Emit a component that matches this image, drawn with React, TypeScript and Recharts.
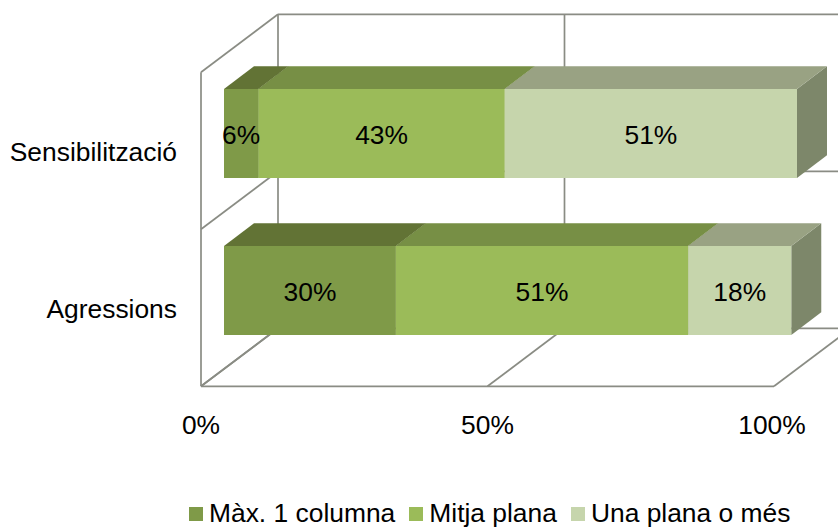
import React from "react";
import { BarChart, Bar, XAxis, YAxis, Legend, LabelList, CartesianGrid } from "recharts";

const categories = ["Sensibilització", "Agressions"];
const maxUnaColumna = [6, 30];
const mitjaPlana = [43, 51];
const unaPlanaOMes = [51, 18];
const xTicks = [0, 50, 100];
const seriesNames = ["Màx. 1 columna", "Mitja plana", "Una plana o més"];

const frontColors = ["#7F9A48", "#9BBB59", "#C6D5AC"];
const topColors = ["#627335", "#778F45", "#99A283"];
const sideColors = ["#627335", "#778F45", "#7D876A"];

const rows = categories.map((name, i) => ({
  name,
  a: maxUnaColumna[i],
  b: mitjaPlana[i],
  c: unaPlanaOMes[i],
}));

const FONT = "'Liberation Sans', Arial, sans-serif";
const FONT_SIZE = 26.4;
const GRID = "#8A8C84";
const LINE_W = 1.7;

const W = 838;
const H = 527;
const LEGEND_H = 27;
const AXIS_SIZE = 1;
const PLOT = { left: 224, right: 797, top: 55, bottom: 369 };
// projection of the chart box: bar plane -> front plane -> back wall
const FRONT = { dx: -23, dy: 17.3 };
const BACK = { dx: 54, dy: -40.7 };
// depth of a bar
const BAR_DEPTH = { dx: 30, dy: -22.7 };

const gridLine = (x1: number, y1: number, x2: number, y2: number) => (
  <line x1={x1} y1={y1} x2={x2} y2={y2} stroke={GRID} strokeWidth={LINE_W} />
);

// value gridlines: floor diagonal and back-wall vertical
const verticalGrid = (props: any) => {
  const { x1: x, y1: top, y2: bottom, index } = props;
  return (
    <g key={`v-${index}`}>
      {gridLine(x + FRONT.dx, bottom + FRONT.dy, x + BACK.dx, bottom + BACK.dy)}
      {gridLine(x + BACK.dx, bottom + BACK.dy, x + BACK.dx, top + BACK.dy)}
      {index === 0 && gridLine(x + FRONT.dx, top + FRONT.dy, x + FRONT.dx, bottom + FRONT.dy)}
    </g>
  );
};

// category separators: side-wall diagonal and back-wall horizontal
const horizontalGrid = (props: any) => {
  const { x1: left, x2: right, y1: y, index } = props;
  return (
    <g key={`h-${index}`}>
      {gridLine(left + FRONT.dx, y + FRONT.dy, left + BACK.dx, y + BACK.dy)}
      {gridLine(left + BACK.dx, y + BACK.dy, right + BACK.dx, y + BACK.dy)}
      {index === categories.length && gridLine(left + FRONT.dx, y + FRONT.dy, right + FRONT.dx, y + FRONT.dy)}
    </g>
  );
};

const bandEdges = ({ offset }: any) =>
  categories.map((_, i) => offset.top + (offset.height * i) / categories.length).concat(offset.top + offset.height);

const XTick = (props: any) => {
  const { x, payload } = props;
  return (
    <text x={x + FRONT.dx - (payload.value === 100 ? 2 : 0)} y={434} textAnchor="middle" fontFamily={FONT} fontSize={FONT_SIZE} fill="#000">
      {payload.value}%
    </text>
  );
};

const YTick = (props: any) => {
  const { y, payload } = props;
  return (
    <text x={177} y={y + FRONT.dy + 10} textAnchor="end" fontFamily={FONT} fontSize={FONT_SIZE} fill="#000">
      {payload.value}
    </text>
  );
};

const bar3D = (seriesIndex: number) => (props: any) => {
  const { x, y, width, height } = props;
  const d = BAR_DEPTH;
  return (
    <g>
      <polygon
        points={`${x + width},${y} ${x + width + d.dx},${y + d.dy} ${x + width + d.dx},${y + height + d.dy} ${x + width},${y + height}`}
        fill={sideColors[seriesIndex]}
      />
      <polygon
        points={`${x},${y} ${x + d.dx},${y + d.dy} ${x + width + d.dx},${y + d.dy} ${x + width},${y}`}
        fill={topColors[seriesIndex]}
      />
      <rect x={x} y={y} width={width} height={height} fill={frontColors[seriesIndex]} />
    </g>
  );
};

const LegendContent = (props: any) => (
  <div style={{ display: "flex", whiteSpace: "nowrap", height: LEGEND_H, fontFamily: FONT, fontSize: FONT_SIZE, color: "#000", lineHeight: `${LEGEND_H}px` }}>
    {(props.payload || []).map((p: any, i: number) => (
      <div key={i} style={{ display: "flex", alignItems: "center", marginRight: 14 }}>
        <span style={{ display: "inline-block", width: 14, height: 14, background: p.color, marginRight: 6 }} />
        <span>{p.value}</span>
      </div>
    ))}
  </div>
);

const labelFormat = (v: any) => `${v}%`;
const keys = ["a", "b", "c"];

export default function App() {
  return (
    <div style={{ position: "absolute", left: 0, top: 0, width: W, height: H, overflow: "hidden", background: "#fff" }}>
      <BarChart
        width={W}
        height={H}
        data={rows}
        layout="vertical"
        margin={{
          left: PLOT.left - AXIS_SIZE,
          right: W - PLOT.right,
          top: PLOT.top,
          bottom: H - PLOT.bottom - LEGEND_H - AXIS_SIZE,
        }}
        barSize={89}
      >
        <CartesianGrid
          vertical={verticalGrid}
          horizontal={horizontalGrid}
          horizontalCoordinatesGenerator={bandEdges}
        />
        <XAxis
          type="number"
          domain={[0, 100]}
          ticks={xTicks}
          height={AXIS_SIZE}
          interval={0}
          tickSize={0}
          tickMargin={0}
          axisLine={false}
          tickLine={false}
          tick={XTick}
        />
        <YAxis
          type="category"
          dataKey="name"
          width={AXIS_SIZE}
          interval={0}
          tickSize={0}
          tickMargin={0}
          axisLine={false}
          tickLine={false}
          tick={YTick}
        />
        <Legend
          content={LegendContent}
          itemSorter={null}
          wrapperStyle={{ left: 189, top: 500, bottom: "auto", width: 640 }}
        />
        {keys.map((k, i) => (
          <Bar
            key={k}
            dataKey={k}
            name={seriesNames[i]}
            stackId="s"
            fill={frontColors[i]}
            shape={bar3D(i)}
            isAnimationActive={false}
          >
            <LabelList dataKey={k} position="center" dy={1.5} formatter={labelFormat} fill="#000" fontFamily={FONT} fontSize={FONT_SIZE} />
          </Bar>
        ))}
      </BarChart>
    </div>
  );
}
